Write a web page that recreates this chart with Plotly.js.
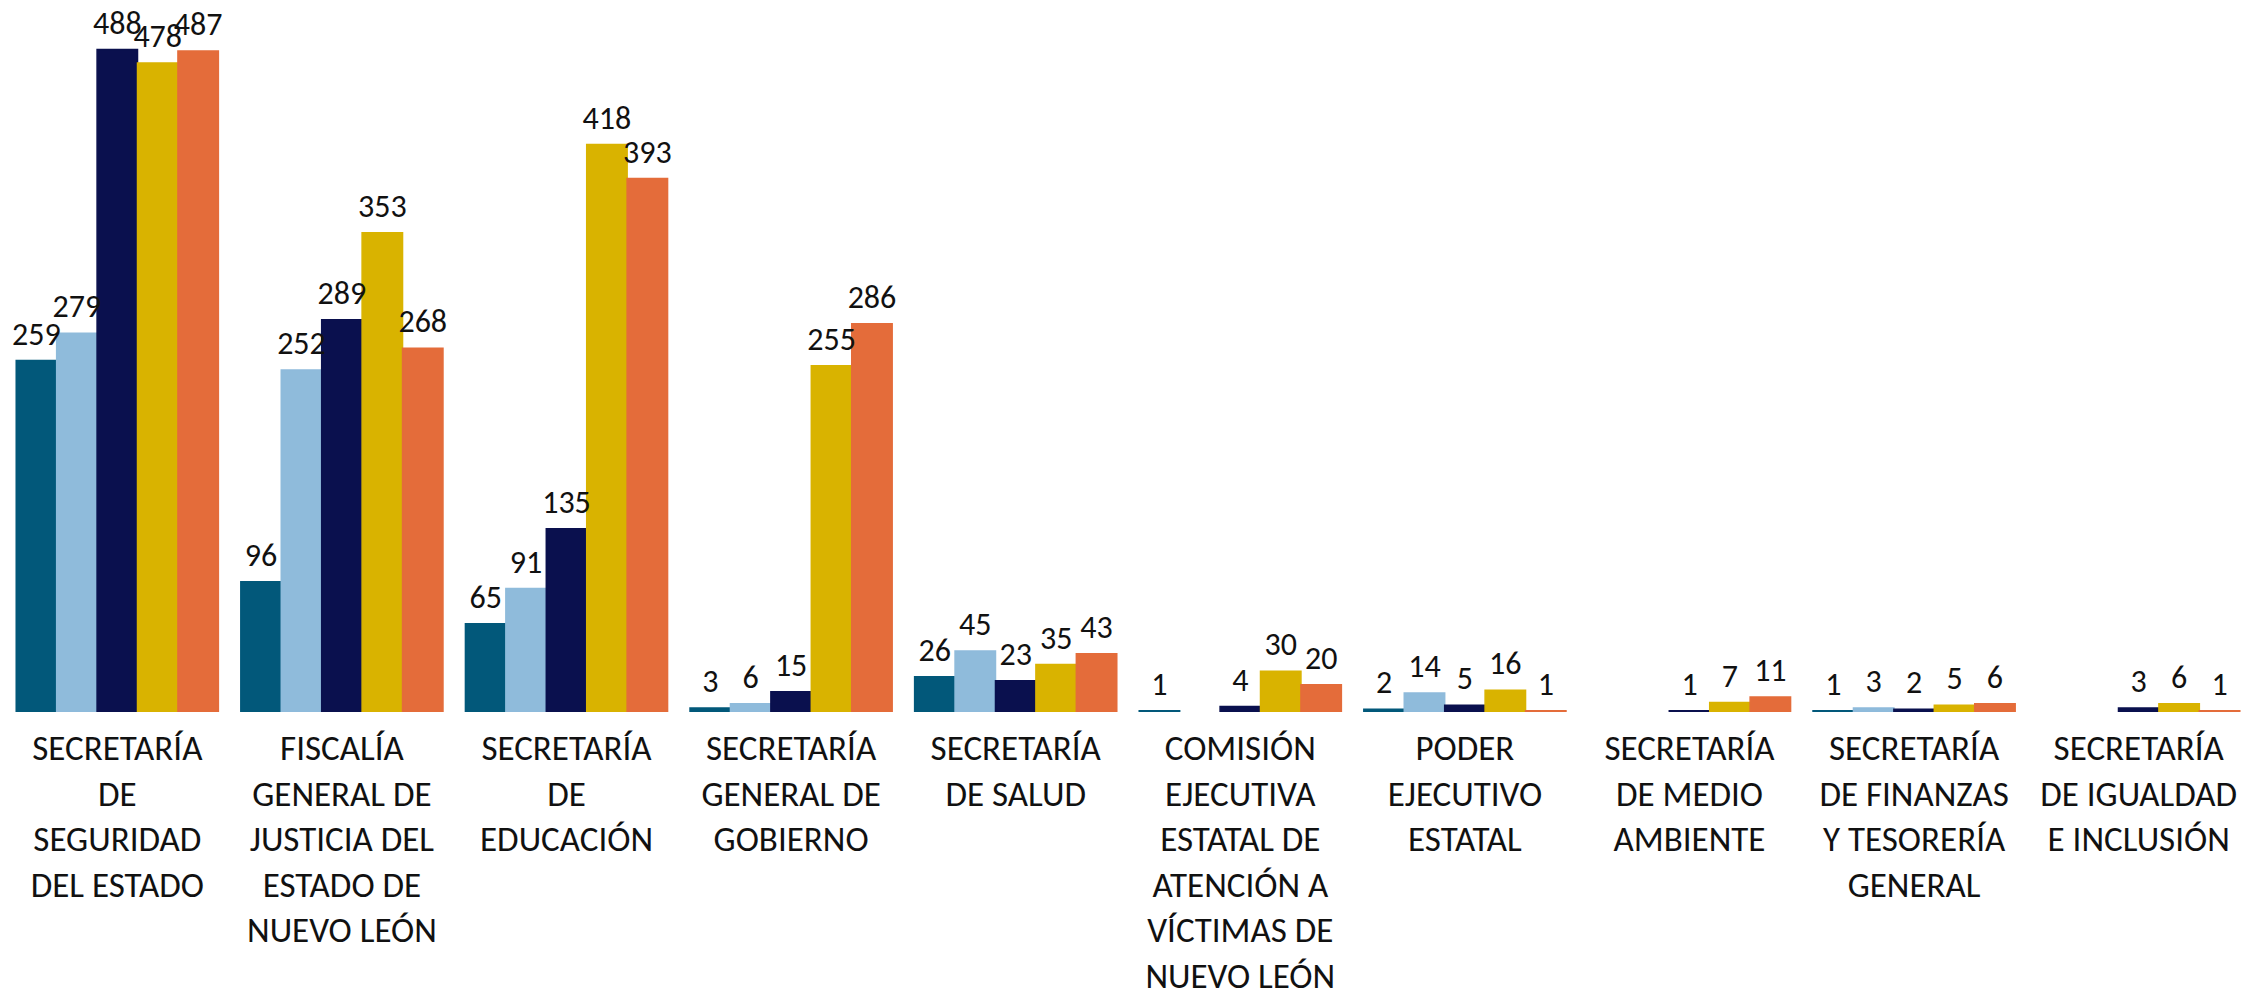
<!DOCTYPE html>
<html>
<head>
<meta charset="utf-8">
<script src="https://cdn.plot.ly/plotly-3.0.1.min.js"></script>
<style>html,body{margin:0;padding:0;background:#fff;}#chart{width:2251px;height:992px;}</style>
</head>
<body>
<div id="chart"></div>
<script>
const categories = [
  "SECRETARÍA<br>DE<br>SEGURIDAD<br>DEL ESTADO",
  "FISCALÍA<br>GENERAL DE<br>JUSTICIA DEL<br>ESTADO DE<br>NUEVO LEÓN",
  "SECRETARÍA<br>DE<br>EDUCACIÓN",
  "SECRETARÍA<br>GENERAL DE<br>GOBIERNO",
  "SECRETARÍA<br>DE SALUD",
  "COMISIÓN<br>EJECUTIVA<br>ESTATAL DE<br>ATENCIÓN A<br>VÍCTIMAS DE<br>NUEVO LEÓN",
  "PODER<br>EJECUTIVO<br>ESTATAL",
  "SECRETARÍA<br>DE MEDIO<br>AMBIENTE",
  "SECRETARÍA<br>DE FINANZAS<br>Y TESORERÍA<br>GENERAL",
  "SECRETARÍA<br>DE IGUALDAD<br>E INCLUSIÓN"
];

const serie1 = [259, 96, 65, 3, 26, 1, 2, null, 1, null];
const serie2 = [279, 252, 91, 6, 45, null, 14, null, 3, null];
const serie3 = [488, 289, 135, 15, 23, 4, 5, 1, 2, 3];
const serie4 = [478, 353, 418, 255, 35, 30, 16, 7, 5, 6];
const serie5 = [487, 268, 393, 286, 43, 20, 1, 11, 6, 1];

const seriesNames = ["Serie 1", "Serie 2", "Serie 3", "Serie 4", "Serie 5"];
const seriesColors = ["#02587A", "#8FBBDB", "#0A104E", "#D9B300", "#E46C3A"];
const allSeries = [serie1, serie2, serie3, serie4, serie5];

const FONT = "Carlito, Calibri, sans-serif";

const barTraces = allSeries.map((vals, i) => ({
  type: "bar",
  name: seriesNames[i],
  x: categories,
  y: vals,
  marker: { color: seriesColors[i], line: { color: seriesColors[i], width: 1.5 } },
  cliponaxis: false,
  hoverinfo: "x+y"
}));

// value labels drawn as text scatter traces, grouped like the bars, so they sit above every bar
const labelTraces = allSeries.map((vals, i) => ({
  type: "scatter",
  mode: "markers+text",
  name: seriesNames[i],
  x: categories,
  y: vals,
  text: vals.map(v => (v === null ? "" : String(v))),
  textposition: "top center",
  marker: { size: 11, color: "rgba(0,0,0,0)" },
  cliponaxis: false,
  showlegend: false,
  textfont: { family: FONT, size: 32, color: "#111111" },
  hoverinfo: "skip"
}));

const layout = {
  width: 2251,
  height: 992,
  margin: { l: 5, r: 0, t: 0, b: 280 },
  paper_bgcolor: "#ffffff",
  plot_bgcolor: "#ffffff",
  showlegend: false,
  barmode: "group",
  bargap: 0.1,
  bargroupgap: 0,
  scattermode: "group",
  scattergap: 0.1,
  font: { family: FONT, color: "#111111" },
  xaxis: {
    type: "category",
    showline: false,
    showgrid: false,
    zeroline: false,
    ticks: "",
    tickangle: 0,
    ticklabelstandoff: 12,
    tickfont: { family: FONT, size: 35, color: "#111111" }
  },
  yaxis: {
    range: [0, 524.5],
    showgrid: false,
    zeroline: false,
    showline: false,
    showticklabels: false,
    ticks: ""
  }
};

Plotly.newPlot("chart", barTraces.concat(labelTraces), layout, { staticPlot: true, displayModeBar: false });
</script>
</body>
</html>
